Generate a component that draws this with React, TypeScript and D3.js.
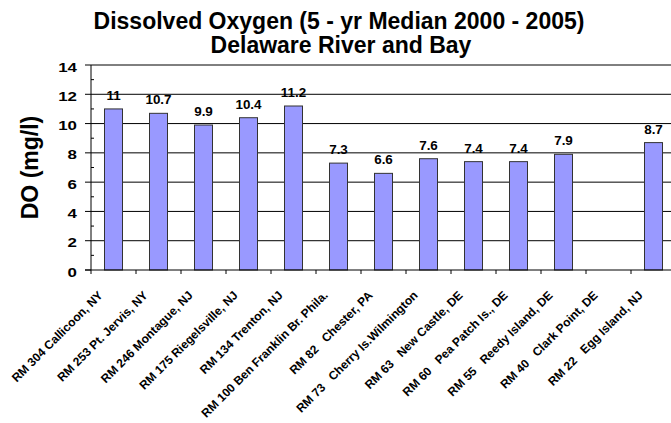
import React from "react";
import * as d3 from "d3";

const categories = [
  "RM 304 Callicoon, NY",
  "RM 253 Pt. Jervis, NY",
  "RM 246 Montague, NJ",
  "RM 175 Riegelsville, NJ",
  "RM 134 Trenton, NJ",
  "RM 100 Ben Franklin Br. Phila.",
  "RM 82   Chester, PA",
  "RM 73   Cherry Is.Wilmington",
  "RM 63   New Castle, DE",
  "RM 60   Pea Patch Is., DE",
  "RM 55   Reedy Island, DE",
  "RM 40   Clark Point, DE",
  "RM 22   Egg Island, NJ",
];
const values: (number | null)[] = [11, 10.7, 9.9, 10.4, 11.2, 7.3, 6.6, 7.6, 7.4, 7.4, 7.9, null, 8.7];
const yTicks = [0, 2, 4, 6, 8, 10, 12, 14];
const title1 = "Dissolved Oxygen (5 - yr Median 2000 - 2005)";
const title2 = "Delaware River and Bay";
const yLabel = "DO (mg/l)";

export default function App() {
  const W = 671, H = 423;
  const left = 91, right = 676, top = 65, bottom = 270;
  const x = d3.scaleBand<string>().domain(categories).range([left, right]).paddingInner(0).paddingOuter(0);
  const y = d3.scaleLinear().domain([0, 14]).range([bottom, top]);
  const barW = 18;
  const font = "Arial, 'Liberation Sans', sans-serif";
  const minor = d3.range(1, 14, 2);
  const boundaries = categories.map((c) => x(c)!).concat([right]);

  return (
    <svg width={W} height={H} style={{ position: "absolute", left: 0, top: 0, background: "#fff" }} fontFamily={font}>
      <rect x={0} y={0} width={W} height={H} fill="#fff" />
      <text x={339} y={29} textAnchor="middle" fontSize={23} fontWeight="bold">{title1}</text>
      <text x={341} y={53} textAnchor="middle" fontSize={23} fontWeight="bold">{title2}</text>
      {/* gridlines */}
      {yTicks.filter((t) => t > 0).map((t) => (
        <line key={"g" + t} x1={left} x2={right} y1={y(t)} y2={y(t)} stroke="#000" strokeWidth={1} />
      ))}
      {/* bars */}
      {categories.map((c, i) => {
        const v = values[i];
        if (v == null) return null;
        const cx = x(c)! + x.bandwidth() / 2;
        return (
          <g key={"b" + i}>
            <rect x={cx - barW / 2} y={y(v)} width={barW} height={bottom - y(v)} fill="#9999FF" stroke="#333" strokeWidth={1} />
            <text transform={`translate(${cx} ${y(v) - 9}) scale(1.12 1)`} textAnchor="middle" fontSize={12} fontWeight="bold">{String(v)}</text>
          </g>
        );
      })}
      {/* y axis */}
      <line x1={left} x2={left} y1={top} y2={bottom} stroke="#000" />
      {yTicks.map((t) => (
        <g key={"yt" + t}>
          <line x1={left - 6} x2={left} y1={y(t)} y2={y(t)} stroke="#000" />
          <text transform={`translate(77 ${y(t) + 6.5}) scale(1.3 1)`} textAnchor="end" fontSize={13} fontWeight="bold">{t}</text>
        </g>
      ))}
      {minor.map((t) => (
        <line key={"mt" + t} x1={left} x2={left + 3} y1={y(t)} y2={y(t)} stroke="#000" />
      ))}
      {/* x axis */}
      <line x1={left - 6} x2={right} y1={bottom} y2={bottom} stroke="#000" />
      {boundaries.map((b, i) => (
        <line key={"xt" + i} x1={b} x2={b} y1={bottom} y2={bottom + 4} stroke="#000" />
      ))}
      {categories.map((c, i) => {
        const cx = x(c)! + x.bandwidth() / 2;
        const ax = cx - 10, ay = 296;
        return (
          <text key={"xl" + i} x={ax} y={ay} transform={`rotate(-45 ${ax} ${ay})`} textAnchor="end" fontSize={12} fontWeight="bold" style={{ whiteSpace: "pre" }}>{c}</text>
        );
      })}
      <text transform={`translate(38 167.5) rotate(-90)`} textAnchor="middle" fontSize={23} fontWeight="bold">{yLabel}</text>
    </svg>
  );
}
